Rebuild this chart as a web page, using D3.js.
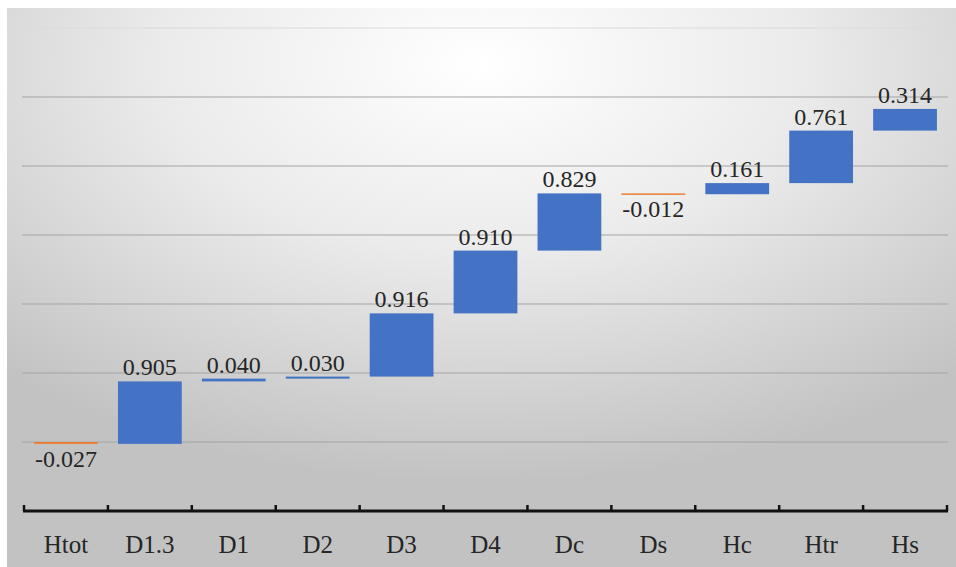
<!DOCTYPE html>
<html>
<head>
<meta charset="utf-8">
<script src="https://cdn.jsdelivr.net/npm/d3@7"></script>
<style>
  html, body { margin: 0; padding: 0; background: #fff; }
  svg { display: block; }
  svg text { font-family: "Liberation Serif", "Times New Roman", serif; }
</style>
</head>
<body>
<svg id="chart" width="956" height="567"></svg>
<script>
// Waterfall steps, in order
const categories = ["Htot", "D1.3", "D1", "D2", "D3", "D4", "Dc", "Ds", "Hc", "Htr", "Hs"];
const deltas = [-0.027, 0.905, 0.040, 0.030, 0.916, 0.910, 0.829, -0.012, 0.161, 0.761, 0.314];
const labels = ["-0.027", "0.905", "0.040", "0.030", "0.916", "0.910", "0.829", "-0.012", "0.161", "0.761", "0.314"];
const gridValues = [0, 1, 2, 3, 4, 5, 6];

// running totals: each step floats from the previous end
let running = 0;
const steps = categories.map((c, i) => {
  const start = running;
  running += deltas[i];
  return { cat: c, start, end: running, delta: deltas[i], label: labels[i] };
});

const svg = d3.select("#chart");
const defs = svg.append("defs");
const grad = defs.append("radialGradient")
  .attr("id", "bg").attr("cx", "50%").attr("cy", "10%").attr("r", "75%")
  .attr("fx", "50%").attr("fy", "10%");
grad.append("stop").attr("offset", "0%").attr("stop-color", "#ffffff");
grad.append("stop").attr("offset", "45%").attr("stop-color", "#ebebeb");
grad.append("stop").attr("offset", "100%").attr("stop-color", "#c2c2c2");

svg.append("rect").attr("x", 7).attr("y", 8).attr("width", 949).attr("height", 559)
  .attr("fill", "url(#bg)");

const x = d3.scaleBand().domain(categories).range([24, 947])
  .paddingInner(0.24).paddingOuter(0.12);
const y = d3.scaleLinear().domain([-1, 6]).range([511, 28]);

// horizontal gridlines
svg.append("g").selectAll("line").data(gridValues).join("line")
  .attr("x1", 22).attr("x2", 948)
  .attr("y1", d => y(d)).attr("y2", d => y(d))
  .attr("stroke", d => d === 6 ? "#dcdcdc" : "#a3a3a3")
  .attr("stroke-width", 1.2);

// bars
svg.append("g").selectAll("rect").data(steps).join("rect")
  .attr("x", d => x(d.cat))
  .attr("width", x.bandwidth())
  .attr("y", d => y(Math.max(d.start, d.end)))
  .attr("height", d => Math.max(1.5, Math.abs(y(d.start) - y(d.end))))
  .attr("fill", d => d.delta < 0 ? "#ED7D31" : "#4472C4");

// value labels: above rises, below falls
svg.append("g").selectAll("text").data(steps).join("text")
  .attr("x", d => x(d.cat) + x.bandwidth() / 2)
  .attr("y", d => d.delta < 0 ? y(Math.min(d.start, d.end)) + 23 : y(Math.max(d.start, d.end)) - 6)
  .attr("text-anchor", "middle")
  .attr("font-size", 24)
  .attr("fill", "#262626")
  .text(d => d.label);

// category axis with ticks at band boundaries
const axisY = y(-1);
const axisG = svg.append("g").attr("transform", `translate(0,${axisY})`);
const axis = d3.axisBottom(x).tickSize(0).tickPadding(24);
axisG.call(axis);
axisG.attr("font-family", null);
axisG.select(".domain").remove();
axisG.selectAll("text")
  .attr("font-size", 25)
  .attr("fill", "#262626");

const bounds = categories.map(c => x(c) - x.step() * x.paddingInner() / 2)
  .concat([x(categories[categories.length - 1]) + x.bandwidth() + x.step() * x.paddingInner() / 2]);
svg.append("line")
  .attr("x1", bounds[0] - 1).attr("x2", bounds[bounds.length - 1] + 1)
  .attr("y1", axisY).attr("y2", axisY)
  .attr("stroke", "#111").attr("stroke-width", 3);
svg.append("g").selectAll("line").data(bounds).join("line")
  .attr("x1", d => d).attr("x2", d => d)
  .attr("y1", axisY).attr("y2", axisY - 6)
  .attr("stroke", "#111").attr("stroke-width", 2.5);
</script>
</body>
</html>
